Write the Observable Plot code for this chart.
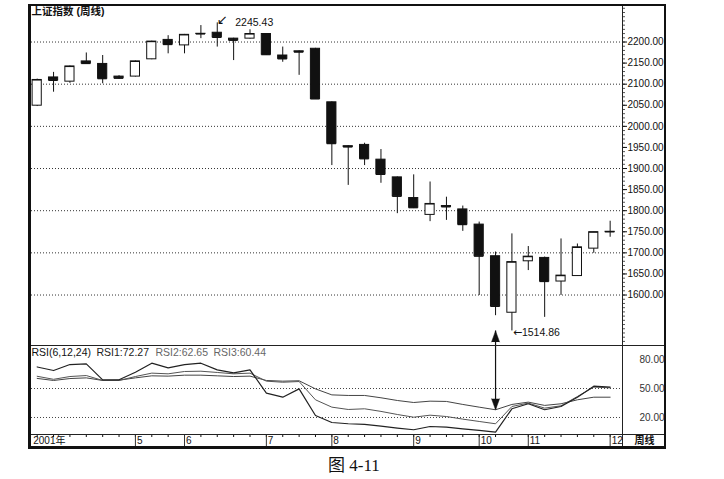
<!DOCTYPE html>
<html><head><meta charset="utf-8">
<script src="https://cdn.jsdelivr.net/npm/d3@7"></script>
<script src="https://cdn.jsdelivr.net/npm/@observablehq/plot@0.6"></script>
<style>
body{margin:0;background:#fff;}
#wrap{position:relative;width:724px;height:479px;overflow:hidden;background:#fff;font-family:"Liberation Sans",Arial,"Noto Sans CJK SC",sans-serif;}
#wrap svg{position:absolute;left:0;overflow:visible;}
.ln{position:absolute;background:#222;}
#frame{position:absolute;left:28px;top:4px;width:638px;height:445px;box-sizing:border-box;border:2px solid #111;border-left-width:3px;border-bottom-width:3px;}
#cap{position:absolute;left:328px;top:456px;font-size:17px;line-height:20px;font-family:"Liberation Serif","Noto Sans CJK SC",serif;color:#111;}
</style></head><body><div id="wrap"></div>
<script>
// ---- data (weekly, 2001) ----
const open  = [2049,2116,2106,2154,2148,2118,2118,2159,2205,2192,2219.5,2222,2208,2208,2219,2168,2178,2184,2057,1953,1956,1921,1879,1830,1790,1811,1803,1767,1692,1558,1680,1688,1632,1645,1710,1749];
const high  = [2112,2128,2143,2174,2168,2120,2155,2202,2215,2218,2239,2245.43,2209,2229,2220,2188,2179,2185,2058,1954,1960,1945,1880,1885,1868,1832,1811,1773,1702,1745,1715,1690,1733,1721,1749,1775];
const low   = [2047,2081,2102,2148,2101,2112,2117,2158,2172,2172,2208,2188,2156,2207,2168,2152,2121,2064,1907,1860,1907,1865,1793,1805,1774,1777,1751,1599,1551,1514.86,1658,1547,1599,1644,1699,1737];
const close = [2110,2109,2142,2149,2113,2114,2154,2201,2194,2217,2219,2211,2204,2219,2170,2160,2176,2065,1959,1951,1923,1886,1834,1807,1816,1809,1767,1692,1573,1678,1691,1632,1646,1713,1749,1750];
const rsi1 = [72.27,68.6,74.8,75.5,59,59,66.9,76.2,71.4,74.8,76.2,69.3,66.2,69.3,45.2,41,49.6,22.1,14.8,13.5,12.8,11,9,7.3,10.7,10,8.3,6.6,4.8,29,34.2,28,31.4,41,52.4,51.4];
const rsi2 = [62.65,59.5,62.4,63.4,58.3,58.3,62.4,65.9,65.2,67.6,67.9,66.6,65.2,65.9,57.6,56.5,57.2,38.3,30.7,28.3,29,26.3,23.1,20.3,22.4,21,18.3,15.9,13.5,31.4,34.9,29.7,32.1,41.7,51.4,50.7];
const rsi3 = [60.44,58.3,60.3,61,58.3,58.6,61,63.1,62.8,63.8,63.8,63.1,62.4,62.8,58.3,57.6,58,49.6,43.4,42.8,42.8,40.4,37.6,35.5,36.9,36.6,33.5,30.7,28,33.5,35.9,32.5,34.2,38.3,41,41];
const monthIdx    = [0,6,9,14,18,23,27,30,35];
const monthLabels = ["2001年","5","6","7","8","9","10","11","12"];
const priceTicks  = d3.range(1600, 2201, 50);
const priceGrid   = d3.range(1600, 2201, 100);
const rsiTicks    = [20,50,80];
const rsiGrid     = [20,50];
const title = "上证指数 (周线)";
const rsiTitle = "RSI(6,12,24)";
const periodLabel = "周线";
const caption = "图 4-11";

// ---- build ----
const candles = open.map((o,i)=>({i, open:o, high:high[i], low:low[i], close:close[i]}));
const months = monthIdx.map((i,k)=>({i, label:monthLabels[k]}));
const xDomain = [-0.531, 35.755];
const yDomain = [1480.3, 2286.6];
const rDomain = [2.4, 94.5];
const font = '"Liberation Sans", Arial, "Noto Sans CJK SC", sans-serif';
const peakI = d3.maxIndex(high), lowI = d3.minIndex(low), rsiLowI = d3.minIndex(rsi1);
const ink = "#111";

const main = Plot.plot({
  width:724, height:345, marginLeft:28, marginRight:102, marginTop:5, marginBottom:0,
  style:{fontFamily:font, fontSize:"10px", color:ink, background:"transparent", overflow:"visible"},
  x:{domain:xDomain, axis:null},
  y:{domain:yDomain, axis:null},
  marks:[
    Plot.ruleY(priceGrid, {y:d=>d, stroke:"#333", strokeDasharray:"1,2"}),
    Plot.axisY({anchor:"right", ticks:d3.range(1490, 2290, 10), tickSize:2, tickFormat:()=>"", label:null, stroke:"#555"}),
    Plot.axisY({anchor:"right", ticks:priceTicks, tickSize:4, tickPadding:1, tickFormat:d=>d.toFixed(2), label:null, fontSize:10}),
    Plot.ruleX(candles, {x:"i", y1:"low", y2:"high", stroke:ink, strokeWidth:1}),
    Plot.rect(candles, {x1:d=>d.i-0.28, x2:d=>d.i+0.28, y1:"open", y2:"close", fill:d=>d.close>d.open?"#fff":ink, stroke:ink, strokeWidth:1}),
    Plot.ruleY(candles, {y:"close", x1:d=>d.i-0.28, x2:d=>d.i+0.28, stroke:ink, strokeWidth:1.2}),
    Plot.text([title], {text:d=>d, frameAnchor:"top-left", dx:3, dy:2.5, fontWeight:"bold", fontSize:10.5}),
    Plot.text([candles[peakI]], {x:"i", y:"high", text:()=>"↙", dx:5, dy:-3, fontSize:13, fontFamily:"DejaVu Sans"}),
    Plot.text([candles[peakI]], {x:"i", y:"high", text:d=>d.high.toFixed(2), textAnchor:"start", dx:18, dy:0, fontSize:10.5}),
    Plot.text([candles[lowI]], {x:"i", y:"low", text:()=>"←", textAnchor:"start", dx:1, dy:2, fontSize:11, fontFamily:"DejaVu Sans"}),
    Plot.text([candles[lowI]], {x:"i", y:"low", text:d=>d.low.toFixed(2), textAnchor:"start", dx:10, dy:2, fontSize:10.5}),
    Plot.ruleX([rsiLowI], {x:d=>d, y1:low[lowI], y2:yDomain[0], stroke:ink, strokeWidth:1.2}),
    Plot.vector([rsiLowI], {x:d=>d, y:low[lowI], length:11, r:4, shape:"spike", anchor:"end", rotate:0, fill:ink, stroke:ink, strokeWidth:0.5})
  ]
});
main.style.top = "0px";

const rsiPanel = Plot.plot({
  width:724, height:103, marginLeft:28, marginRight:102, marginTop:0, marginBottom:14,
  style:{fontFamily:font, fontSize:"10px", color:ink, background:"transparent", overflow:"visible"},
  x:{domain:xDomain, axis:null},
  y:{domain:rDomain, axis:null},
  marks:[
    Plot.ruleY(rsiGrid, {y:d=>d, stroke:"#444", strokeDasharray:"1,2"}),
    Plot.line(rsi3, {x:(d,i)=>i, y:d=>d, stroke:"#444", strokeWidth:1}),
    Plot.line(rsi2, {x:(d,i)=>i, y:d=>d, stroke:"#555", strokeWidth:1}),
    Plot.line(rsi1, {x:(d,i)=>i, y:d=>d, stroke:"#222", strokeWidth:1.2}),
    Plot.axisY({anchor:"right", ticks:rsiTicks, tickSize:0, tickPadding:17, tickFormat:d=>d.toFixed(2), label:null, fontSize:10, fill:"#333"}),
    Plot.axisX({anchor:"bottom", ticks:d3.range(open.length), tickSize:3, tickFormat:()=>"", label:null}),
    Plot.axisX({anchor:"bottom", ticks:monthIdx.slice(1), tickSize:14, tickFormat:()=>"", label:null, stroke:"#333"}),
    Plot.text(months.slice(0,1), {x:"i", text:"label", frameAnchor:"bottom", textAnchor:"start", lineAnchor:"top", dx:-4, dy:2.5, fontSize:10}),
    Plot.text(months.slice(1), {x:"i", text:"label", frameAnchor:"bottom", textAnchor:"start", lineAnchor:"top", dx:1.5, dy:2.5, fontSize:10}),
    Plot.text([periodLabel], {text:d=>d, frameAnchor:"bottom-right", textAnchor:"start", lineAnchor:"top", dx:12, dy:2.5, fontSize:10, fontWeight:"bold"}),
    Plot.text([rsiTitle], {text:d=>d, frameAnchor:"top-left", dx:3, dy:3.5, fontSize:10.5, fill:"#111"}),
    Plot.text(["RSI1:"+rsi1[0].toFixed(2)], {text:d=>d, frameAnchor:"top-left", dx:68, dy:3.5, fontSize:10.5, fill:"#222"}),
    Plot.text(["RSI2:"+rsi2[0].toFixed(2)], {text:d=>d, frameAnchor:"top-left", dx:127, dy:3.5, fontSize:10.5, fill:"#666"}),
    Plot.text(["RSI3:"+rsi3[0].toFixed(2)], {text:d=>d, frameAnchor:"top-left", dx:185, dy:3.5, fontSize:10.5, fill:"#666"}),
    Plot.ruleX([rsiLowI], {x:d=>d, y1:rDomain[1], y2:rsi3[rsiLowI], stroke:ink, strokeWidth:1.2}),
    Plot.vector([rsiLowI], {x:d=>d, y:rsi3[rsiLowI], length:11, r:4, shape:"spike", anchor:"end", rotate:180, fill:ink, stroke:ink, strokeWidth:0.5})
  ]
});
rsiPanel.style.top = "345px";

const wrap = document.getElementById("wrap");
wrap.appendChild(main);
wrap.appendChild(rsiPanel);
function line(l,t,w,h){const d=document.createElement("div");d.className="ln";Object.assign(d.style,{left:l+"px",top:t+"px",width:w+"px",height:h+"px"});wrap.appendChild(d);}
line(622,5,1,443);
line(28,345,638,1);
line(28,434,638,1);
const fr=document.createElement("div");fr.id="frame";wrap.appendChild(fr);
const cap=document.createElement("div");cap.id="cap";cap.textContent=caption;wrap.appendChild(cap);
</script>
</body></html>
